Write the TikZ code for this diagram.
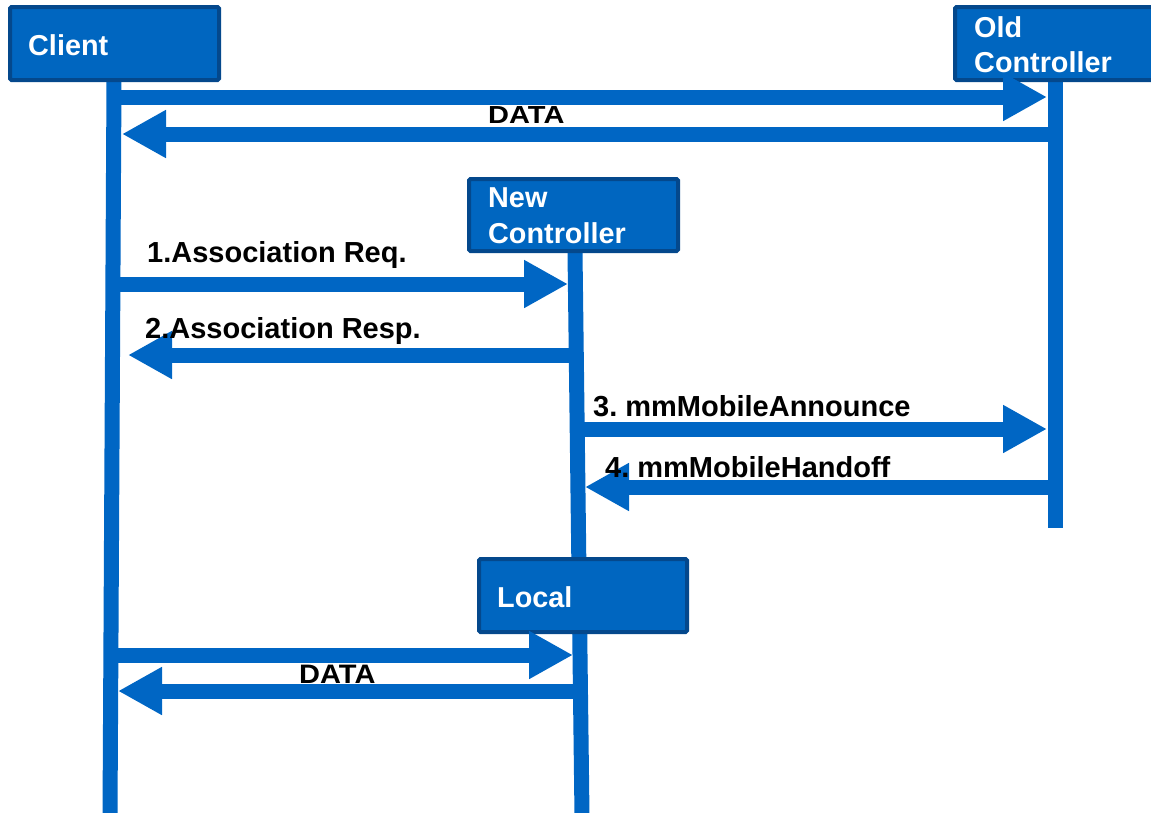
\documentclass[tikz,border=0pt]{standalone}
\usepackage{fontspec}
\setmainfont{Liberation Sans}
\usetikzlibrary{arrows.meta}
\definecolor{lineblue}{RGB}{0,102,196}
\definecolor{boxfill}{RGB}{0,102,192}
\definecolor{boxedge}{RGB}{4,72,140}
\frenchspacing
\begin{document}
\begin{tikzpicture}[x=1pt,y=-1pt,
  box/.style={rectangle, fill=boxfill, draw=boxedge, line width=4pt, rounded corners=1.5pt,
    anchor=north west, inner sep=0pt, outer sep=0pt},
  boxtext/.style={anchor=base west, inner sep=0pt, text=white,
    font=\fontsize{28.8}{34}\selectfont\bfseries},
  lbl/.style={anchor=base west, inner sep=0pt, text=black,
    font=\fontsize{29}{34}\selectfont\bfseries},
  lifeline/.style={draw=lineblue, line width=15pt},
  msg/.style={draw=lineblue, line width=15pt,
    -{Triangle[length=44pt,width=45pt]}, fill=lineblue},
]
\useasboundingbox (0,0) rectangle (1151,812);
% lifelines
\coordinate (cTop) at (114,81);
\coordinate (cBot) at (110,816);
\coordinate (nTop) at (575,252);
\coordinate (nBot) at (582,816);
\coordinate (oTop) at (1055,81);
\coordinate (oBot) at (1055,528);
\draw[lifeline] (cTop) -- (cBot);
\draw[lifeline] (nTop) -- (nBot);
\draw[lifeline] (oTop) -- (oBot);
% boxes
\node[box, minimum width=209pt, minimum height=73pt] (client) at (10,7) {};
\node[box, minimum width=210pt, minimum height=73pt] (old) at (955,7) {};
\node[box, minimum width=209pt, minimum height=72pt] (new) at (469,179) {};
\node[box, minimum width=208pt, minimum height=73pt] (local) at (479,559) {};
\node[boxtext] (clientT) at (28,55) {Client};
\node[boxtext] (oldT1) at (974,37) {Old};
\node[boxtext] (oldT2) at (974,72) {Controller};
\node[boxtext] (newT1) at (488,207) {New};
\node[boxtext] (newT2) at (488,243) {Controller};
\node[boxtext] (localT) at (497,607) {Local};
% message end points
\coordinate (a1s) at (114,97);  \coordinate (a1e) at (1047,97);
\coordinate (a2s) at (1055,134); \coordinate (a2e) at (122,134);
\coordinate (a3s) at (114,284); \coordinate (a3e) at (568,284);
\coordinate (a4s) at (576,355); \coordinate (a4e) at (128,355);
\coordinate (a5s) at (578,429); \coordinate (a5e) at (1047,429);
\coordinate (a6s) at (1055,487); \coordinate (a6e) at (585,487);
\coordinate (a7s) at (114,655); \coordinate (a7e) at (573,655);
\coordinate (a8s) at (580,691); \coordinate (a8e) at (118,691);
\draw[msg] (a1s) -- (a1e);
\draw[msg] (a2s) -- (a2e);
\draw[msg] (a3s) -- (a3e);
\draw[msg] (a4s) -- (a4e);
\draw[msg] (a5s) -- (a5e);
\draw[msg] (a6s) -- (a6e);
\draw[msg] (a7s) -- (a7e);
\draw[msg] (a8s) -- (a8e);
% labels
\node[lbl] (d1) at (488,123) {\scalebox{1}[0.85]{DATA}};
\node[lbl] (l1) at (147,262) {1.Association Req.};
\node[lbl] (l2) at (145,338) {2.Association Resp.};
\node[lbl] (l3) at (593,416) {3. mmMobileAnnounce};
\node[lbl] (l4) at (605,477) {4. mmMobileHandoff};
\node[lbl] (d2) at (299,683) {\scalebox{1}[0.92]{DATA}};
\end{tikzpicture}
\end{document}
